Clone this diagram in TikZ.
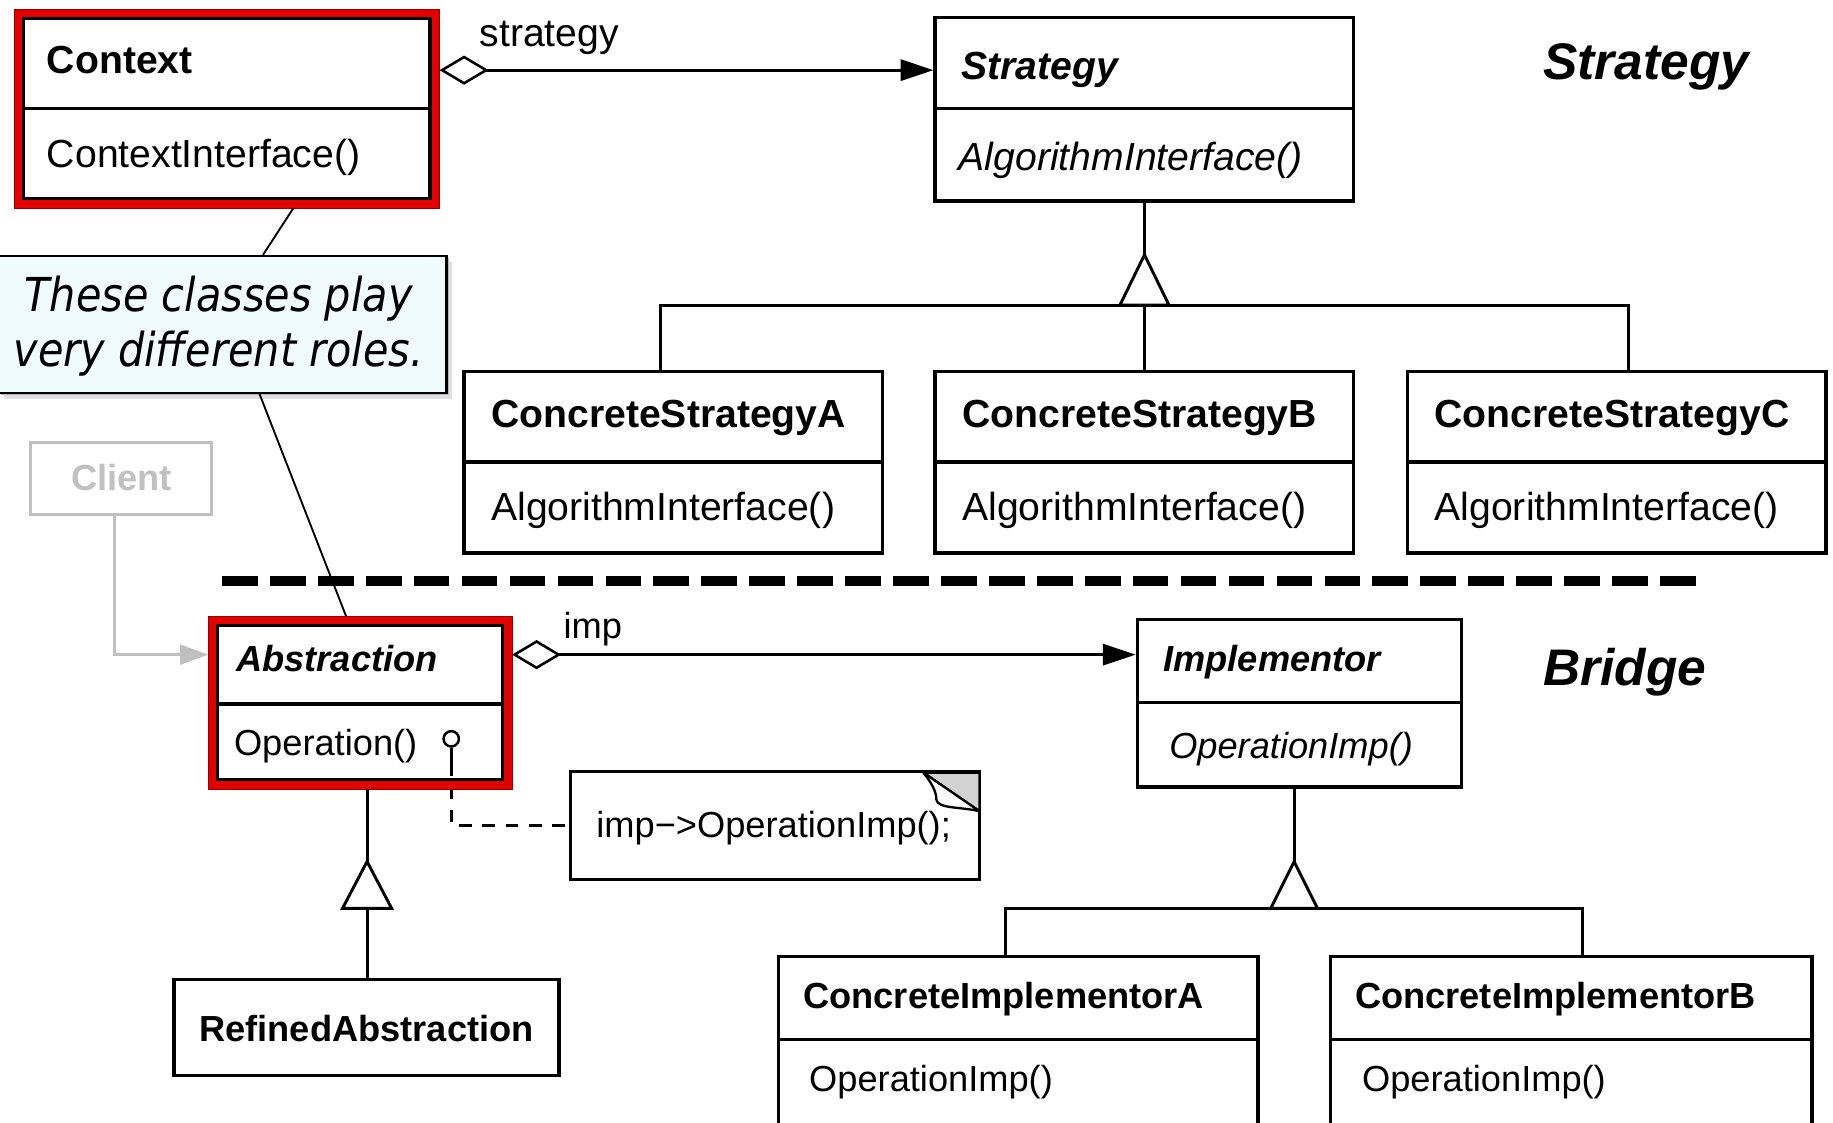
\documentclass[tikz,border=0pt]{standalone}
\usepackage{fontspec}
\setmainfont{Liberation Sans}
\newfontfamily\notefont[FakeStretch=0.886]{DejaVu Sans}
\usetikzlibrary{arrows.meta,calc}

\definecolor{frame}{RGB}{226,0,0}
\definecolor{framedark}{RGB}{150,0,0}
\definecolor{clientgray}{RGB}{192,192,192}
\definecolor{notefill}{RGB}{240,251,253}
\definecolor{earfill}{RGB}{210,210,210}

\tikzset{
  classbox/.style={draw=black, line width=3pt, inner sep=0pt, anchor=north west},
  redframe/.style={draw=frame, line width=9pt, inner sep=0pt, anchor=north west},
  divider/.style={line width=3pt},
  lbl/.style={inner sep=0pt, anchor=base west},
  big/.style={font=\fontsize{33.5}{40}\selectfont},
  bigb/.style={font=\bfseries\fontsize{33.5}{40}\selectfont},
  bigbi/.style={font=\bfseries\itshape\fontsize{33.5}{40}\selectfont},
  bigi/.style={font=\itshape\fontsize{33.5}{40}\selectfont},
  sml/.style={font=\fontsize{31}{37}\selectfont},
  smlb/.style={font=\bfseries\fontsize{31}{37}\selectfont},
  smlbi/.style={font=\bfseries\itshape\fontsize{31}{37}\selectfont},
  smli/.style={font=\itshape\fontsize{31}{37}\selectfont},
  title/.style={inner sep=0pt, anchor=base west, font=\bfseries\itshape\fontsize{44}{50}\selectfont},
  conn/.style={line width=2.5pt},
  aggr/.style={line width=2.5pt,
    {Diamond[open,length=42pt,width=25pt,line width=2.2pt]}-{Triangle[length=28pt,width=18pt]}},
  gen/.style={line width=2.5pt, fill=white, line join=miter},
  thinline/.style={line width=1.6pt},
}

\begin{document}
\begin{tikzpicture}[x=1pt,y=-1pt]
\useasboundingbox (0,0) rectangle (1568,960);

% ---------------- Strategy half ----------------
% Context (highlighted)
\node[redframe, minimum width=355pt, minimum height=161pt] (ctxred) at (12,8) {};
\draw[framedark, line width=0.8pt] (ctxred.north west) rectangle (ctxred.south east);
\node[classbox, minimum width=348pt, minimum height=154pt] (ctx) at (18.5,14.5) {};
\draw[divider] (ctx.west |- 0,93) -- (ctx.east |- 0,93);
\node[lbl, bigb] (ctxname) at (40,63) {Context};
\node[lbl, big] (ctxop) at (40,143) {ContextInterface()};

% Strategy
\node[classbox, minimum width=358pt, minimum height=157pt] (st) at (798.5,13.5) {};
\draw[divider] (st.west |- 0,93) -- (st.east |- 0,93);
\node[lbl, bigbi] (stname) at (822,68) {Strategy};
\node[lbl, bigi] (stop) at (820,146) {AlgorithmInterface()};

% Concrete strategies
\node[classbox, minimum width=358pt, minimum height=155pt] (csa) at (395.5,316.5) {};
\draw[divider] (csa.west |- 0,395) -- (csa.east |- 0,395);
\node[lbl, bigb] (csaname) at (420,366) {ConcreteStrategyA};
\node[lbl, big] (csaop) at (420,445) {AlgorithmInterface()};

\node[classbox, minimum width=358pt, minimum height=155pt] (csb) at (798.5,316.5) {};
\draw[divider] (csb.west |- 0,395) -- (csb.east |- 0,395);
\node[lbl, bigb] (csbname) at (823,366) {ConcreteStrategyB};
\node[lbl, big] (csbop) at (823,445) {AlgorithmInterface()};

\node[classbox, minimum width=358pt, minimum height=155pt] (csc) at (1202.5,316.5) {};
\draw[divider] (csc.west |- 0,395) -- (csc.east |- 0,395);
\node[lbl, bigb] (cscname) at (1227,366) {ConcreteStrategyC};
\node[lbl, big] (cscop) at (1227,445) {AlgorithmInterface()};

% aggregation Context -> Strategy
\coordinate (saggstart) at (ctxred.east |- 0,60);
\draw[aggr] (saggstart) -- (saggstart -| st.west);
\node[lbl, big] (stratlbl) at (410,40) {strategy};

% generalisation of the strategies
\coordinate (sapex) at (979,218);
\coordinate (sbusL) at (565,261);
\coordinate (sbusR) at (1393,261);
\draw[conn] (sapex |- st.south) -- (sapex);
\draw[conn] (sbusL |- csa.north) -- (sbusL) -- (sbusR) -- (sbusR |- csc.north);
\draw[conn] (sapex |- sbusL) -- (sapex |- csb.north);
\draw[gen] (sapex) -- ++(-21,43) -- ++(42,0) -- cycle;

\node[title] (ttlstrategy) at (1320,68) {Strategy};

% ---------------- annotation ----------------
\fill[gray!25] (3,224) rectangle (387,341);
\fill[gray!55] (1,221) rectangle (384,338);
\node[draw=black, line width=2pt, fill=notefill, inner sep=0pt, anchor=north west,
      minimum width=383pt, minimum height=117pt] (note) at (-2,218) {};
\node[inner sep=0pt, align=center, font=\notefont\itshape\fontsize{40}{47}\selectfont]
  (notetext) at (187,279) {These classes play\\very different roles.};
\draw[thinline] (ctxred.south -| 251,0) -- (note.north -| 225,0);
\draw[thinline] (note.south -| 222,0) -- (296,527) coordinate (absentry);

% separator
\draw[line width=9pt, dash pattern=on 30.5pt off 10.5pt] (190,497) coordinate (sepL) -- (1451,497) coordinate (sepR);

% ---------------- Bridge half ----------------
% Client
\node[draw=clientgray, line width=2.5pt, inner sep=0pt, anchor=north west,
      minimum width=155pt, minimum height=62pt] (client) at (25,377) {};
\node[inner sep=0pt, anchor=base, font=\bfseries\fontsize{31}{37}\selectfont, text=clientgray]
  (clientname) at (104,420) {Client};

% dashed link from Operation() to the code note (drawn under the frame)
\node[draw, line width=2pt, fill=white, circle, inner sep=0pt, minimum size=13pt] (lol) at (386,632) {};
\node[draw, line width=2.5pt, inner sep=0pt, anchor=north west,
      minimum width=350pt, minimum height=92pt] (code) at (487,659) {};
\draw[conn] (lol.south) -- ++(0,13) coordinate (lolend);
\draw[line width=2.6pt, dash pattern=on 11pt off 9pt] (lolend) -- (lolend |- 0,706) -- (code.west |- 0,706);

% Abstraction (highlighted)
\node[redframe, minimum width=251pt, minimum height=139pt] (absred) at (178,527) {};
\draw[framedark, line width=0.8pt] (absred.north west) rectangle (absred.south east);
\node[classbox, minimum width=244pt, minimum height=132pt] (abs) at (184.5,533.5) {};
\draw[divider] (abs.west |- 0,602) -- (abs.east |- 0,602);
\node[lbl, smlbi] (absname) at (202,574) {Abstraction};
\node[lbl, sml] (absop) at (200,646) {Operation()};
\node[draw, line width=2pt, fill=white, circle, inner sep=0pt, minimum size=13pt] (lolb) at (lol) {};

% client -> Abstraction
\draw[clientgray, line width=2.5pt, -{Triangle[length=24pt,width=17pt]}]
  ([xshift=-6pt]client.south) |- (absred.west |- 0,560);

% code note with folded corner
\node[lbl, sml] (codetext) at (510,716) {imp−>OperationImp();};
\coordinate (earA) at (790,661);
\coordinate (earC) at (838,661);
\coordinate (earB) at (838,694);
\draw[line width=2pt, fill=earfill, line join=round] (earA) -- (earC) -- (earB) -- cycle;
\draw[line width=2pt, fill=white, line join=round] (earA) .. controls (797,670) and (801,677) .. (801,684)
   .. controls (802,692) and (822,690) .. (earB) -- cycle;

% Implementor
\node[classbox, minimum width=277pt, minimum height=143pt] (imp) at (971.5,528.5) {};
\draw[divider] (imp.west |- 0,601) -- (imp.east |- 0,601);
\node[lbl, smlbi] (impname) at (995,574) {Implementor};
\node[lbl, smli] (impop) at (1000,649) {OperationImp()};

% aggregation Abstraction -> Implementor
\coordinate (baggstart) at (absred.east |- 0,560);
\draw[aggr] (baggstart) -- (baggstart -| imp.west);
\node[lbl, sml] (implbl) at (482,546) {imp};

\node[title] (ttlbridge) at (1320,586) {Bridge};

% Refined abstraction
\node[classbox, minimum width=329pt, minimum height=82pt] (ra) at (147.5,836.5) {};
\node[inner sep=0pt, anchor=base, font=\bfseries\fontsize{31}{37}\selectfont] (raname) at (313.5,891) {RefinedAbstraction};
\coordinate (aapex) at (314,737);
\draw[conn] (aapex |- absred.south) -- (aapex);
\draw[conn] (aapex) ++(0,40) -- (aapex |- ra.north);
\draw[gen] (aapex) -- ++(-21,40) -- ++(42,0) -- cycle;

% Concrete implementors
\node[classbox, minimum width=410pt, minimum height=160pt] (cia) at (664.5,816.5) {};
\draw[divider] (cia.west |- 0,889) -- (cia.east |- 0,889);
\node[lbl, smlb] (cianame) at (687,863) {ConcreteImplementorA};
\node[lbl, sml] (ciaop) at (692,934) {OperationImp()};

\node[classbox, minimum width=412pt, minimum height=160pt] (cib) at (1136.5,816.5) {};
\draw[divider] (cib.west |- 0,889) -- (cib.east |- 0,889);
\node[lbl, smlb] (cibname) at (1159,863) {ConcreteImplementorB};
\node[lbl, sml] (cibop) at (1165,934) {OperationImp()};

% generalisation of the implementors
\coordinate (iapex) at (1107,737);
\coordinate (ibusL) at (860,777);
\coordinate (ibusR) at (1354,777);
\draw[conn] (iapex |- imp.south) -- (iapex);
\draw[conn] (ibusL |- cia.north) -- (ibusL) -- (ibusR) -- (ibusR |- cib.north);
\draw[gen] (iapex) -- ++(-20,40) -- ++(40,0) -- cycle;
\end{tikzpicture}
\end{document}
